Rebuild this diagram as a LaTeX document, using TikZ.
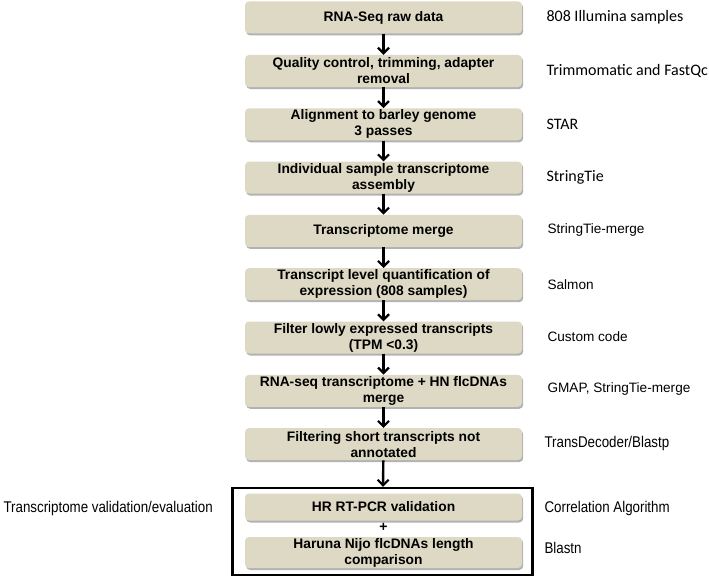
\documentclass[tikz,border=0pt]{standalone}
\usepackage{fontspec}
\setmainfont{Liberation Sans}
\newfontfamily\calibrifont{Carlito}
\newfontfamily\narrowfont[FakeStretch=0.86]{Liberation Sans}
\usetikzlibrary{arrows.meta,shadows}
\definecolor{boxtan}{HTML}{DDD9C4}
\tikzset{
  stepbox/.style={fill=boxtan, rounded corners=4pt, minimum width=277pt,
    minimum height=32pt, inner sep=1pt, align=center,
    font=\bfseries\fontsize{13.8}{16}\selectfont,
    drop shadow={shadow xshift=1.2pt, shadow yshift=-2pt, opacity=0.3, fill=black}},
  toolnote/.style={anchor=west, font=\fontsize{13.6}{15}\selectfont},
  calnote/.style={toolnote, font=\calibrifont\fontsize{16}{18}\selectfont},
  narrownote/.style={toolnote, font=\narrowfont\fontsize{15.5}{17}\selectfont},
  flow/.style={-{Straight Barb[length=5.5pt,width=11pt,line width=2.2pt]}, line width=2.4pt},
}
\begin{document}
\begin{tikzpicture}[x=1pt,y=-1pt]
  \useasboundingbox (0,0) rectangle (709,578);
  % pipeline steps
  \node [stepbox] (raw) at (383.5,17.5) {RNA-Seq raw data};
  \node [stepbox] (qc) at (383.5,71) {Quality control, trimming, adapter\\removal};
  \node [stepbox] (align) at (383.5,124.3) {Alignment to barley genome\\3 passes};
  \node [stepbox] (assembly) at (383.5,177.6) {Individual sample transcriptome\\assembly};
  \node [stepbox] (merge) at (383.5,230.9) {Transcriptome merge};
  \node [stepbox] (quant) at (383.5,284.2) {Transcript level quantification of\\expression (808 samples)};
  \node [stepbox] (lowexp) at (383.5,337.5) {Filter lowly expressed transcripts\\(TPM {<}0.3)};
  \node [stepbox] (flc) at (383.5,390.8) {RNA-seq transcriptome + HN flcDNAs\\merge};
  \node [stepbox] (short) at (383.5,444.1) {Filtering short transcripts not\\annotated};
  % validation block
  \node [draw, line width=2.4pt, minimum width=300pt, minimum height=87pt] (valbox) at (382.5,531.5) {};
  \node [stepbox, minimum height=27pt] (rtpcr) at (383.5,507) {HR RT-PCR validation};
  \node [font=\bfseries\fontsize{14}{15}\selectfont] (plus) at (383.5,527.5) {+};
  \node [stepbox, minimum height=31pt] (haruna) at (383.5,552.5) {Haruna Nijo flcDNAs length\\comparison};
  \draw [flow] (raw) -- (qc);
  \draw [flow] (qc) -- (align);
  \draw [flow] (align) -- (assembly);
  \draw [flow] (assembly) -- (merge);
  \draw [flow] (merge) -- (quant);
  \draw [flow] (quant) -- (lowexp);
  \draw [flow] (lowexp) -- (flc);
  \draw [flow] (flc) -- (short);
  \draw [flow] (short) -- (valbox);
  % tools
  \node [calnote] (t1) at (543,17.5) {808 Illumina samples};
  \node [calnote] (t2) at (543,71) {Trimmomatic and FastQc};
  \node [calnote] (t3) at (543,124.3) {STAR};
  \node [calnote] (t4) at (543,177.6) {StringTie};
  \node [toolnote] (t5) at (544,229.5) {StringTie-merge};
  \node [toolnote] (t6) at (544,285) {Salmon};
  \node [toolnote] (t7) at (544,337) {Custom code};
  \node [toolnote] (t8) at (544,388.5) {GMAP, StringTie-merge};
  \node [narrownote] (t9) at (541,443) {TransDecoder/Blastp};
  \node [narrownote] (t10) at (541,508) {Correlation Algorithm};
  \node [narrownote] (t11) at (541,548) {Blastn};
  \node [narrownote] (valnote) at (0,508) {Transcriptome validation/evaluation};
\end{tikzpicture}
\end{document}
